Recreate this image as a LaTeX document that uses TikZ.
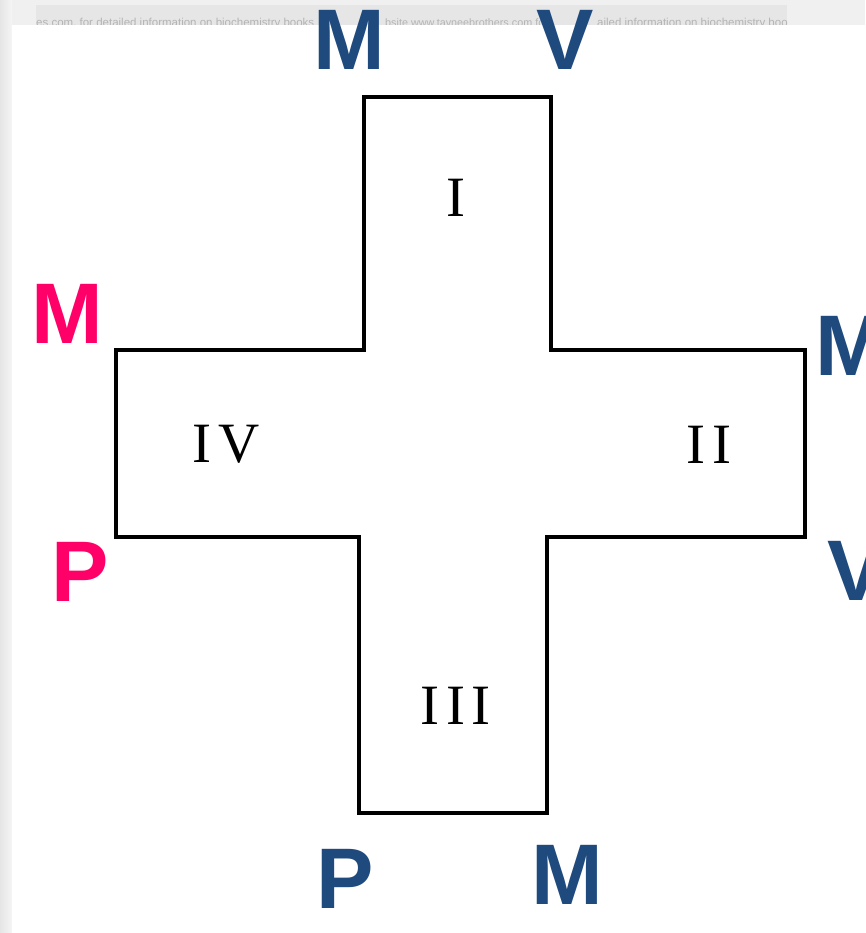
\documentclass[tikz,border=0pt]{standalone}
\usepackage{fontspec}
\setmainfont{Liberation Sans}
\newfontfamily\numfont[LetterSpace=11.5]{Liberation Serif}
\definecolor{labblue}{HTML}{1F4A7E}
\definecolor{labpink}{HTML}{FF0068}
\definecolor{stripgray}{HTML}{E6E6E6}
\definecolor{striptext}{HTML}{B4B4B4}
\begin{document}
\begin{tikzpicture}[x=1pt,y=-1pt,
  biglab/.style={inner sep=0pt, anchor=base, font=\fontsize{86}{86}\selectfont\bfseries},
  bluelab/.style={biglab, text=labblue},
  pinklab/.style={biglab, text=labpink},
  numlab/.style={inner sep=0pt, anchor=base, font=\fontsize{57}{57}\selectfont\numfont},
  striplab/.style={inner sep=0pt, anchor=base west, font=\fontsize{11.5}{11.5}\selectfont, text=striptext},
  crossline/.style={draw=black, line width=4pt, line join=miter}
]
\useasboundingbox (0,0) rectangle (865,933);
% background
\fill[white!94!black] (0,0) rectangle (865,933);
\shade[left color=white!90!black, right color=white!96!black] (0,0) rectangle (12,933);
\fill[stripgray] (36,5) rectangle (787,25);
\begin{scope}
\clip (36,5) rectangle (787,25);
\node[striplab] (s1) at (36,27) {es.com, for detailed information on biochemistry books};
\node[striplab, font=\fontsize{10.8}{10.8}\selectfont] (s2) at (385,27) {bsite www.tayneebrothers.com for};
\node[striplab] (s3) at (597,27) {ailed information on biochemistry book};
\end{scope}
\fill[white] (12,25) rectangle (865,933);
% cross
\draw[crossline] (364,97) -- (551,97) -- (551,350) -- (805,350) -- (805,537)
  -- (547,537) -- (547,813) -- (359,813) -- (359,537) -- (116,537)
  -- (116,350) -- (364,350) -- cycle;
% numerals
\node[numlab] (n1) at (456,217) {I};
\node[numlab] (n4) at (226,462) {IV};
\node[numlab] (n2) at (709,463) {II};
\node[numlab] (n3) at (456,724) {III};
% letters
\node[bluelab] (tM) at (349,70) {M};
\node[bluelab] (tV) at (565,70) {V};
\node[pinklab] (lM) at (67,343) {M};
\node[pinklab] (lP) at (80,601) {P};
\node[bluelab] (rM) at (851,375) {M};
\node[bluelab] (rV) at (856,600) {V};
\node[bluelab] (bP) at (345,908) {P};
\node[bluelab] (bM) at (567,904) {M};
\end{tikzpicture}
\end{document}
